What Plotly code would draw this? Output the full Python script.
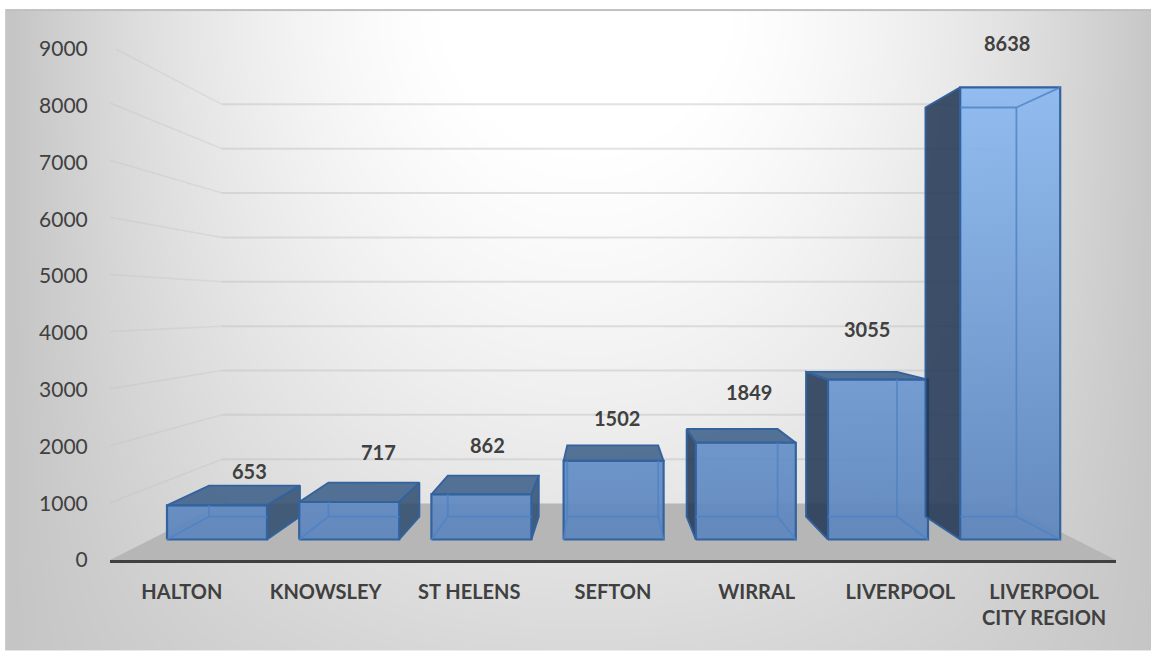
import base64, struct, zlib
import numpy as np
import plotly.graph_objects as go

categories = ["HALTON", "KNOWSLEY", "ST HELENS", "SEFTON", "WIRRAL", "LIVERPOOL", "LIVERPOOL<br>CITY REGION"]
values = [653, 717, 862, 1502, 1849, 3055, 8638]
y_ticks = [0, 1000, 2000, 3000, 4000, 5000, 6000, 7000, 8000, 9000]
# hand placement of the data labels (pixels)
label_dx = [-5, 5, -6, 4, 17, 15, 36]
label_dy = [15, 31, 31, 27, 37, 43, 65]

W, H = 1155, 652
L, R, T, B = 110, 1116, 49, 560.5
XU = (R - L) / 7
YU = (B - T) / 9000
TEXT = "#404040"
FONT = "Lato"


def bg_png():
    yy, xx = np.mgrid[0:H, 0:W].astype(float)
    d = np.abs(xx - 585) / 575
    shape = np.clip(1 - d ** 2, 0, 1)
    amp = 62 - 42 * (np.clip(yy - 30, 0, None) / 620) ** 1.5
    g = np.clip(197 + amp * shape, 190, 255)
    g[(xx < 6) | (xx > 1150) | (yy < 10) | (yy > 650)] = 255
    g[(yy >= 9) & (yy < 11) & (xx >= 6) & (xx <= 1150)] = 192
    g[(xx >= 5) & (xx < 6) & (yy >= 9) & (yy <= 650)] = 205
    a = g.astype(np.uint8)
    raw = b"".join(b"\x00" + a[i].tobytes() for i in range(H))

    def chunk(t, d):
        return struct.pack(">I", len(d)) + t + d + struct.pack(">I", zlib.crc32(t + d) & 0xffffffff)

    png = b"\x89PNG\r\n\x1a\n" + chunk(b"IHDR", struct.pack(">IIBBBBB", W, H, 8, 0, 0, 0, 0)) \
        + chunk(b"IDAT", zlib.compress(raw, 9)) + chunk(b"IEND", b"")
    return "data:image/png;base64," + base64.b64encode(png).decode()


# planes of the 3D projection, in axis units
def front_box(i, v):
    x0 = (57 + 132.2 * i) / XU
    return x0, x0 + 100 / XU, 20.5 / YU, 20.5 / YU + v * 52.4 / 1000 / YU


def back_box(i, v):
    x0 = (99 + 119.4 * i) / XU
    return x0, x0 + 91 / XU, 43.5 / YU, 43.5 / YU + v * 47.4 / 1000 / YU


WALL_X0, WALL_X1 = 112 / XU, 894 / XU
WALL_Y0, WALL_K = 56.5 / YU, 44.4 / 1000 / YU

fig = go.Figure()


def add(x, y, **kw):
    fig.add_trace(go.Scatter(x=x, y=y, showlegend=False, hoverinfo="skip", cliponaxis=False, **kw))


def poly(pts, fill, line="#33639e", width=1.8):
    xs = [p[0] for p in pts] + [pts[0][0]]
    ys = [p[1] for p in pts] + [pts[0][1]]
    add(xs, ys, mode="lines", fill="toself", fillcolor=fill, line=dict(color=line, width=width))


def clip(p, q, box):
    x0, x1, y0, y1 = box
    t0, t1 = 0.0, 1.0
    dx, dy = q[0] - p[0], q[1] - p[1]
    for a, b in ((-dx, p[0] - x0), (dx, x1 - p[0]), (-dy, p[1] - y0), (dy, y1 - p[1])):
        if a == 0:
            if b < 0:
                return None
        else:
            r = b / a
            if a < 0:
                t0 = max(t0, r)
            else:
                t1 = min(t1, r)
    if t0 >= t1:
        return None
    return (p[0] + t0 * dx, p[1] + t0 * dy), (p[0] + t1 * dx, p[1] + t1 * dy)


# floor
poly([(0, 0), (WALL_X0, WALL_Y0), (WALL_X1, WALL_Y0), (7, 0)], "#b6b6b6", line="rgba(0,0,0,0)", width=0)

# walls
for v in y_ticks[1:]:
    add([0, WALL_X0], [v * 1.006, WALL_Y0 + v * WALL_K], mode="lines", line=dict(color="rgba(190,190,190,0.3)", width=1.5))
    add([WALL_X0, WALL_X1], [WALL_Y0 + v * WALL_K] * 2, mode="lines", line=dict(color="rgba(190,190,190,0.45)", width=2))

GRAD = dict(type="vertical", start=20.5 / YU, stop=(20.5 + 453) / YU,
            colorscale=[[0, "rgba(92,133,189,0.93)"], [1, "rgba(140,185,240,0.93)"]])

for i, v in enumerate(values):
    fx0, fx1, fy0, fy1 = front_box(i, v)
    bx0, bx1, by0, by1 = back_box(i, v)
    # outer side faces
    if bx0 < fx0:
        poly([(fx0, fy0), (bx0, by0), (bx0, by1), (fx0, fy1)], "rgba(35,55,85,0.87)")
    if bx1 > fx1:
        poly([(fx1, fy0), (bx1, by0), (bx1, by1), (fx1, fy1)], "rgba(45,75,110,0.85)")
    if by1 > fy1:
        poly([(fx0, fy1), (bx0, by1), (bx1, by1), (fx1, fy1)], "rgba(50,85,130,0.82)")
    # front face
    xs = [fx0, fx1, fx1, fx0, fx0]
    ys = [fy0, fy0, fy1, fy1, fy0]
    add(xs, ys, mode="lines", fill="toself", fillgradient=GRAD, line=dict(color="#33639e", width=2.2))
    # edges seen through the front face
    segs = [((bx0, by0), (bx1, by0)), ((bx0, by1), (bx1, by1)), ((bx0, by0), (bx0, by1)), ((bx1, by0), (bx1, by1)),
            ((fx0, fy0), (bx0, by0)), ((fx1, fy0), (bx1, by0)), ((fx0, fy1), (bx0, by1)), ((fx1, fy1), (bx1, by1))]
    lx, ly = [], []
    for p, q in segs:
        c = clip(p, q, (fx0, fx1, fy0, fy1))
        if c:
            lx += [c[0][0], c[1][0], None]
            ly += [c[0][1], c[1][1], None]
    add(lx, ly, mode="lines", line=dict(color="rgba(78,130,198,0.8)", width=1.8))

# data labels
for i, v in enumerate(values):
    bx0, bx1, _, by1 = back_box(i, v)
    fig.add_annotation(x=(bx0 + bx1) / 2, y=by1, text=f"<b>{v}</b>", showarrow=False,
                       xshift=label_dx[i], yshift=label_dy[i],
                       font=dict(family=FONT, size=20, color=TEXT), xanchor="center", yanchor="middle")

fig.update_layout(
    width=W, height=H, autosize=False,
    margin=dict(l=L, r=W - R, t=T, b=H - B, pad=0),
    paper_bgcolor="white", plot_bgcolor="rgba(0,0,0,0)",
    showlegend=False,
    images=[dict(source=bg_png(), xref="paper", yref="paper", x=-L / (R - L), y=1 + T / (B - T),
                 sizex=W / (R - L), sizey=H / (B - T), sizing="stretch", xanchor="left", yanchor="top", layer="below")],
    xaxis=dict(range=[0, 7], tickmode="array", tickvals=[k + 0.5 for k in range(7)], ticktext=[f"<b>{c}</b>" for c in categories],
               showgrid=False, zeroline=False, showline=True, linecolor="#404040", linewidth=3,
               ticks="outside", ticklen=12, tickcolor="rgba(0,0,0,0)",
               tickfont=dict(family=FONT, size=20, color=TEXT)),
    yaxis=dict(range=[0, 9000], tickmode="array", tickvals=y_ticks, showgrid=False, zeroline=False, showline=False,
               ticks="outside", ticklen=17, tickcolor="rgba(0,0,0,0)",
               tickfont=dict(family=FONT, size=21, color=TEXT)),
)

fig.write_html("out.html", post_script="document.body.style.margin='0';", config={"displayModeBar": False})
